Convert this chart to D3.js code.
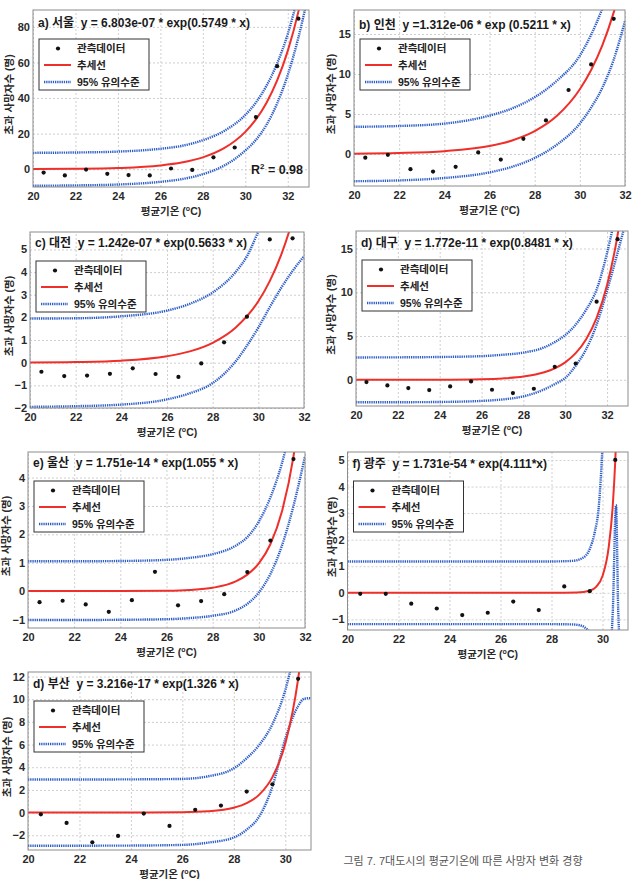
<!DOCTYPE html>
<html>
<head>
<meta charset="utf-8">
<script src="https://cdn.jsdelivr.net/npm/d3@7/dist/d3.min.js"></script>
<style>
  body { margin: 0; background: #fff; }
  svg text { font-family: "Liberation Sans", Arial, "Noto Sans CJK KR", sans-serif; }
</style>
</head>
<body>
<svg id="fig" width="632" height="879"></svg>
<script>
// ---------------- data ----------------
const panelTags = ['a)', 'b)', 'c)', 'd)', 'e)', 'f)', 'd)'];
const cityNames = ['서울', '인천', '대전', '대구', '울산', '광주', '부산'];
const equations = [
  'y = 6.803e-07 * exp(0.5749 * x)',
  'y =1.312e-06 * exp (0.5211 * x)',
  'y = 1.242e-07 * exp(0.5633 * x)',
  'y = 1.772e-11 * exp(0.8481 * x)',
  'y = 1.751e-14 * exp(1.055 * x)',
  'y = 1.731e-54 * exp(4.111*x)',
  'y = 3.216e-17 * exp(1.326 * x)'
];
const legendLabels = ['관측데이터', '추세선', '95% 유의수준'];
const yAxisTitle = '초과 사망자수 (명)';
const caption = '그림 7. 7대도시의 평균기온에 따른 사망자 변화 경향';
const rSquaredSeoul = '0.98';

// observed temperature bins
const obsTemp = [20.5, 21.5, 22.5, 23.5, 24.5, 25.5, 26.5, 27.5, 28.5, 29.5, 30.5, 31.5, 32.5];

const obsSeoul   = [-1.9, -3.5, -0.2, -2.6, -3.3, -3.5, 0.4, -0.4, 6.7, 12.2, 29.3, 57.9, 84.6];
const obsIncheon = [-0.46, -0.1, -1.9, -2.2, -1.6, 0.2, -0.7, 1.9, 4.2, 8.0, 11.2, 16.9];
const obsDaejeon = [-0.40, -0.59, -0.57, -0.49, -0.25, -0.50, -0.63, -0.03, 0.90, 2.03, 5.44, 5.49];
const obsDaegu   = [-0.27, -0.65, -0.95, -1.18, -0.76, -0.19, -1.14, -1.52, -1.03, 1.48, 1.86, 8.92, 16.07];
const obsUlsan   = [-0.39, -0.34, -0.47, -0.73, -0.32, 0.68, -0.50, -0.35, -0.11, 0.67, 1.78, 4.65];
const obsGwangju = [-0.04, -0.04, -0.41, -0.59, -0.84, -0.75, -0.33, -0.65, 0.24, 0.06, 5.0];
const obsBusan   = [-0.15, -0.91, -2.62, -2.06, -0.09, -1.18, 0.24, 0.62, 1.85, 2.50, 11.8];

// trend line and 95% bounds, [temperature, deaths]
const trendSeoul = [[20,0.07],[22,0.21],[24,0.67],[26,2.11],[27,3.75],[28,6.66],[29,11.8],[30,21.0],[30.5,28.0],[31,37.4],[31.5,49.9],[32,66.5],[32.5,88.6],[33,118]];
const upperSeoul = [[20,9.2],[22,9.4],[24,9.9],[26,11.5],[27,13.1],[28,16.3],[29,21.5],[30,30.5],[30.5,37.5],[31,47],[31.5,59.5],[32,76],[32.5,98]];
const lowerSeoul = [[20,-9.3],[22,-9.1],[24,-8.6],[26,-7.1],[27,-5.6],[28,-2.8],[29,2.0],[30,10.5],[30.5,16.5],[31,25],[31.5,37],[32,53],[32.5,74],[33,100]];

const trendIncheon = [[20,0.044],[22,0.125],[24,0.355],[26,1.0],[27,1.69],[28,2.85],[29,4.8],[30,8.09],[30.5,10.5],[31,13.6],[31.5,17.7],[32,22.9]];
const upperIncheon = [[20,3.4],[22,3.5],[24,3.8],[26,4.8],[27,5.7],[28,7.1],[29,9.2],[30,12.3],[30.5,14.9],[31,18.2],[31.5,22]];
const lowerIncheon = [[20,-3.4],[22,-3.3],[24,-3.0],[26,-2.3],[27,-1.6],[28,-0.5],[29,1.2],[30,3.8],[30.5,5.8],[31,8.3],[31.5,11.8],[32,16.6]];

const trendDaejeon = [[20,0.01],[22,0.03],[24,0.09],[26,0.285],[27,0.5],[28,0.88],[29,1.545],[30,2.71],[30.5,3.6],[31,4.76],[31.5,6.3],[32,8.3]];
const upperDaejeon = [[20,1.95],[22,1.96],[24,2.05],[26,2.3],[27,2.6],[28,3.1],[29,4.0],[29.5,4.7],[30,5.8],[30.5,7]];
const lowerDaejeon = [[20,-1.95],[22,-1.92],[24,-1.85],[26,-1.62],[27,-1.35],[28,-0.9],[29,0.05],[29.5,0.75],[30,1.55],[30.5,2.45],[31,3.3],[31.5,4.05],[32,4.7]];

const trendDaegu = [[20,0],[24,0.012],[26,0.067],[27,0.156],[28,0.364],[29,0.85],[29.5,1.3],[30,1.99],[30.5,3.04],[31,4.64],[31.5,7.08],[32,10.83],[32.5,16.5],[33,25]];
const upperDaegu = [[20,2.55],[22,2.56],[24,2.6],[26,2.7],[27,2.85],[28,3.1],[29,3.7],[29.5,4.3],[30,5.1],[30.5,6.3],[31,8.0],[31.5,10.3],[32,14.5],[32.5,20]];
const lowerDaegu = [[20,-2.58],[22,-2.57],[24,-2.54],[26,-2.42],[27,-2.25],[28,-1.9],[29,-1.1],[29.5,-0.5],[30,0.2],[30.5,1.6],[31,3.5],[31.5,6.3],[32,10.2],[32.5,14.5],[33,19]];

const trendUlsan = [[20,0],[24,0.002],[26,0.014],[27,0.041],[28,0.118],[29,0.34],[29.5,0.58],[30,0.975],[30.5,1.65],[31,2.8],[31.5,4.74],[32,8.0]];
const upperUlsan = [[20,1.05],[22,1.05],[24,1.06],[26,1.1],[27,1.17],[28,1.3],[29,1.6],[29.5,1.9],[30,2.45],[30.5,3.3],[31,4.5],[31.5,6.2]];
const lowerUlsan = [[20,-1.02],[22,-1.02],[24,-1.01],[26,-0.99],[27,-0.95],[28,-0.87],[29,-0.68],[29.5,-0.45],[30,-0.05],[30.5,0.6],[31,1.6],[31.5,3.0],[32,4.75]];

const trendGwangju = [[20,0],[28,0.0002],[29,0.0104],[29.5,0.08],[29.75,0.225],[30,0.63],[30.25,1.77],[30.4,3.25],[30.5,4.95],[30.6,7.5]];
const upperGwangju = [[20,1.18],[28,1.18],[28.8,1.2],[29.2,1.3],[29.5,1.65],[29.7,2.3],[29.85,3.2],[29.95,4.6],[30.05,6.5]];
const lowerGwangju = [[20,-1.18],[28,-1.18],[28.8,-1.19],[29.1,-1.22],[29.3,-1.3],[29.5,-1.5],[29.7,-2],[30.3,-2],[30.4,-0.8],[30.53,3.3],[30.62,-0.8],[30.7,-2]];

const trendBusan = [[20,0],[24,0.002],[26,0.03],[27,0.114],[28,0.428],[28.5,0.83],[29,1.61],[29.5,3.13],[30,6.07],[30.5,11.8],[30.7,15.4]];
const upperBusan = [[20,2.92],[22,2.92],[24,2.93],[26,2.97],[27,3.2],[28,3.9],[28.5,4.8],[29,6.0],[29.5,7.8],[30,10.8],[30.3,13.5]];
const lowerBusan = [[20,-2.92],[22,-2.92],[24,-2.91],[26,-2.85],[27,-2.65],[28,-2.2],[28.5,-1.5],[29,-0.3],[29.5,2.3],[30,6.5],[30.5,9.4],[30.75,10.05],[31,10.1]];

// axis ranges and tick labels
const xDomains = [[20,33],[20,32],[20,32],[20,33],[20,32],[20,31],[20,31]];
const yDomains = [[-10,89.5],[-4,18],[-2,5.77],[-3,17],[-1.3,4.9],[-1.4,5.3],[-3.3,12.4]];
const xTicks = [
  [20,22,24,26,28,30,32], [20,22,24,26,28,30,32], [20,22,24,26,28,30,32],
  [20,22,24,26,28,30,32], [20,22,24,26,28,30,32], [20,22,24,26,28,30], [20,22,24,26,28,30]
];
const yTicks = [
  [0,20,40,60,80], [0,5,10,15], [-2,-1,0,1,2,3,4,5], [0,5,10,15],
  [-1,0,1,2,3,4], [-1,0,1,2,3,4,5], [-2,0,2,4,6,8,10,12]
];

// ---------------- layout (pixels) ----------------
const layout = [
  {left: 33,    right: 309, top: 10,  bottom: 187, titleDy: 17, yLabelX: 9},
  {left: 354,   right: 625, top: 10,  bottom: 186, titleDy: 19, yLabelX: 331},
  {left: 30,    right: 304, top: 232, bottom: 408, titleDy: 15, yLabelX: 9},
  {left: 356,   right: 628, top: 231, bottom: 406, titleDy: 16, yLabelX: 331},
  {left: 28,    right: 305, top: 452, bottom: 628, titleDy: 15, yLabelX: 6},
  {left: 347.5, right: 628, top: 452, bottom: 630, titleDy: 16, yLabelX: 332},
  {left: 28,    right: 311, top: 672, bottom: 850, titleDy: 16, yLabelX: 7}
];

const observations = [obsSeoul, obsIncheon, obsDaejeon, obsDaegu, obsUlsan, obsGwangju, obsBusan];
const trends = [trendSeoul, trendIncheon, trendDaejeon, trendDaegu, trendUlsan, trendGwangju, trendBusan];
const uppers = [upperSeoul, upperIncheon, upperDaejeon, upperDaegu, upperUlsan, upperGwangju, upperBusan];
const lowers = [lowerSeoul, lowerIncheon, lowerDaejeon, lowerDaegu, lowerUlsan, lowerGwangju, lowerBusan];

const RED = '#ee2f2a';
const BLUE = '#2d5ec8';

class FitPanel {

  constructor(_config, _data) {
    this.config = {
      svg: _config.svg,
      index: _config.index,
      frame: _config.frame,
      xDomain: _config.xDomain,
      yDomain: _config.yDomain,
      xTicks: _config.xTicks,
      yTicks: _config.yTicks
    }
    this.data = _data;
    this.initVis();
  }

  initVis() {
    let vis = this;
    const f = vis.config.frame;
    vis.width = f.right - f.left;
    vis.height = f.bottom - f.top;

    vis.g = vis.config.svg.append('g')
      .attr('transform', `translate(${f.left},${f.top})`);

    vis.xScale = d3.scaleLinear().domain(vis.config.xDomain).range([0, vis.width]);
    vis.yScale = d3.scaleLinear().domain(vis.config.yDomain).range([vis.height, 0]);

    vis.g.append('rect')
      .attr('width', vis.width)
      .attr('height', vis.height)
      .attr('fill', '#fff');

    // dashed grid
    vis.g.append('g')
      .attr('class', 'grid')
      .attr('transform', `translate(0,${vis.height})`)
      .call(d3.axisBottom(vis.xScale).tickValues(vis.config.xTicks).tickSize(-vis.height).tickFormat(''));
    vis.g.append('g')
      .attr('class', 'grid')
      .call(d3.axisLeft(vis.yScale).tickValues(vis.config.yTicks).tickSize(-vis.width).tickFormat(''));
    vis.g.selectAll('.grid .domain').remove();
    vis.g.selectAll('.grid line')
      .attr('stroke', '#cfcfcf')
      .attr('stroke-dasharray', '2,2');

    // tick labels
    let xAxis = vis.g.append('g')
      .attr('transform', `translate(0,${vis.height})`)
      .call(d3.axisBottom(vis.xScale).tickValues(vis.config.xTicks).tickSize(0).tickPadding(5.5)
        .tickFormat(d3.format('d')));
    let yAxis = vis.g.append('g')
      .call(d3.axisLeft(vis.yScale).tickValues(vis.config.yTicks).tickSize(0).tickPadding(3)
        .tickFormat(d3.format('d')));
    [xAxis, yAxis].forEach(a => {
      a.select('.domain').remove();
      a.selectAll('text')
        .style('font-size', '11px')
        .style('font-weight', 'bold')
        .attr('fill', '#2a2a2a');
    });

    vis.g.append('clipPath')
      .attr('id', 'clip-' + vis.config.index)
      .append('rect')
      .attr('width', vis.width)
      .attr('height', vis.height);

    // axis titles
    let xt = vis.g.append('text')
      .attr('x', vis.width / 2)
      .attr('y', vis.height + 27.5)
      .attr('text-anchor', 'middle')
      .style('font-size', '10.5px')
      .style('font-weight', 'bold')
      .attr('fill', '#2a2a2a');
    xt.append('tspan').text('평균기온 (');
    xt.append('tspan').attr('dy', -4).style('font-size', '7px').text('o');
    xt.append('tspan').attr('dy', 4).text('C)');

    vis.config.svg.append('text')
      .attr('transform', `translate(${f.yLabelX},${f.top + vis.height / 2 - 4}) rotate(-90)`)
      .attr('text-anchor', 'middle')
      .attr('dy', '0.35em')
      .style('font-size', '10.5px')
      .style('font-weight', 'bold')
      .attr('fill', '#2a2a2a')
      .text(yAxisTitle);

    vis.updateVis();
  }

  updateVis() {
    let vis = this;
    const d = vis.data;
    const line = d3.line()
      .x(p => vis.xScale(p[0]))
      .y(p => vis.yScale(p[1]))
      .curve(d3.curveMonotoneX);

    let plot = vis.g.append('g').attr('clip-path', `url(#clip-${vis.config.index})`);

    [d.upper, d.lower].forEach(b => {
      plot.append('path')
        .datum(b)
        .attr('d', line)
        .attr('fill', 'none')
        .attr('stroke', BLUE)
        .attr('stroke-width', 2.4)
        .attr('stroke-dasharray', '1.3,0.9');
    });

    plot.append('path')
      .datum(d.trend)
      .attr('d', line)
      .attr('fill', 'none')
      .attr('stroke', RED)
      .attr('stroke-width', 2);

    plot.selectAll('circle')
      .data(d.obs)
      .enter()
      .append('circle')
      .attr('cx', (v, i) => vis.xScale(obsTemp[i]))
      .attr('cy', v => vis.yScale(v))
      .attr('r', 2.1)
      .attr('fill', '#111');

    // frame
    vis.g.append('rect')
      .attr('width', vis.width)
      .attr('height', vis.height)
      .attr('fill', 'none')
      .attr('stroke', '#8c8c8c');

    // panel title with the fitted equation
    vis.g.append('text')
      .attr('x', 5)
      .attr('y', vis.config.frame.titleDy)
      .style('font-size', '12px')
      .style('font-weight', 'bold')
      .attr('fill', '#1a1a1a')
      .attr('xml:space', 'preserve')
      .text(`${d.tag} ${d.city}  ${d.equation}`);

    // legend
    let lg = vis.g.append('g').attr('transform', 'translate(6,29)');
    lg.append('rect')
      .attr('width', 110)
      .attr('height', 51)
      .attr('fill', '#fff')
      .attr('stroke', '#333');
    lg.append('circle').attr('cx', 19).attr('cy', 9.5).attr('r', 2.1).attr('fill', '#111');
    lg.append('line')
      .attr('x1', 5).attr('x2', 32).attr('y1', 26).attr('y2', 26)
      .attr('stroke', RED).attr('stroke-width', 2);
    lg.append('line')
      .attr('x1', 5).attr('x2', 32).attr('y1', 43).attr('y2', 43)
      .attr('stroke', BLUE).attr('stroke-width', 2.4).attr('stroke-dasharray', '1.3,0.9');
    lg.selectAll('text.lab')
      .data(legendLabels)
      .enter()
      .append('text')
      .attr('class', 'lab')
      .attr('x', 38)
      .attr('y', (t, i) => [9.5, 26, 43][i])
      .attr('dy', '0.36em')
      .style('font-size', '10.5px')
      .style('font-weight', 'bold')
      .attr('fill', '#222')
      .text(t => t);

    if (d.rSquared) {
      let r = vis.g.append('text')
        .attr('x', vis.width - 6)
        .attr('y', vis.yScale(0) + 5)
        .attr('text-anchor', 'end')
        .style('font-size', '12.5px')
        .style('font-weight', 'bold')
        .attr('fill', '#1a1a1a');
      r.append('tspan').text('R');
      r.append('tspan').attr('dy', -5).style('font-size', '8px').text('2');
      r.append('tspan').attr('dy', 5).text(' = ' + d.rSquared);
    }
  }
}

const svg = d3.select('#fig');

cityNames.forEach((city, i) => {
  new FitPanel({
    svg: svg,
    index: i,
    frame: layout[i],
    xDomain: xDomains[i],
    yDomain: yDomains[i],
    xTicks: xTicks[i],
    yTicks: yTicks[i]
  }, {
    tag: panelTags[i],
    city: city,
    equation: equations[i],
    obs: observations[i],
    trend: trends[i],
    upper: uppers[i],
    lower: lowers[i],
    rSquared: i === 0 ? rSquaredSeoul : null
  });
});

svg.append('text')
  .attr('x', 463)
  .attr('y', 865)
  .attr('text-anchor', 'middle')
  .style('font-size', '11px')
  .attr('fill', '#555')
  .text(caption);
</script>
</body>
</html>
